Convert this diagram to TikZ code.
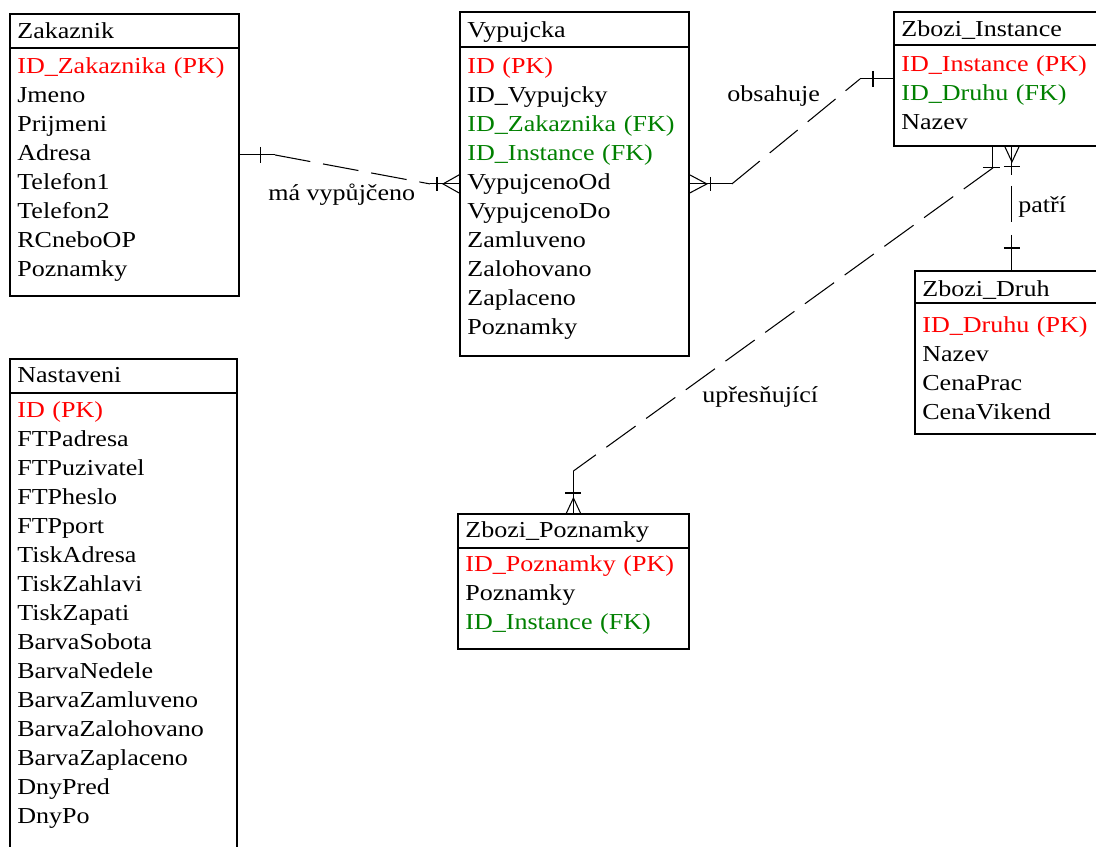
\documentclass[tikz,border=0pt]{standalone}
\usepackage{fontspec}
\setmainfont{Liberation Serif}[FakeStretch=1.14]
\usepackage{tikz}
\usetikzlibrary{calc}
\definecolor{pk}{RGB}{255,0,0}
\definecolor{fk}{RGB}{0,128,0}
\begin{document}
\begin{tikzpicture}[x=0.02cm, y=-0.02cm,
    every node/.style={font=\fontsize{13pt}{16.5pt}\selectfont},
    tabulka/.style={draw, line width=1.1pt, anchor=north west, inner sep=0pt},
    ramec/.style={line width=1.1pt},
    nadpis/.style={anchor=base west, inner sep=0pt},
    polozky/.style={anchor=base west, inner sep=0pt, align=left, text width=4.4cm},
    spoj/.style={line width=0.6pt},
    carkovane/.style={dash pattern=on 0.72cm off 0.26cm},
    popis/.style={anchor=base west, inner sep=0pt}]

    \useasboundingbox (0,0) rectangle (1096,847);
    \clip (0,0) rectangle (1096,847);

    % Tabulky
    \node[tabulka, minimum width=4.58cm, minimum height=5.64cm] (zak) at (9,13) {};
    \node[tabulka, minimum width=4.58cm, minimum height=6.88cm] (vyp) at (459,11) {};
    \node[tabulka, minimum width=4.32cm, minimum height=2.68cm] (inst) at (893,11) {};
    \node[tabulka, minimum width=3.88cm, minimum height=3.26cm] (druh) at (914,270) {};
    \node[tabulka, minimum width=4.54cm, minimum height=10cm] (nast) at (9,358) {};
    \node[tabulka, minimum width=4.62cm, minimum height=2.7cm] (pozn) at (457,513) {};

    % Oddeleni hlavicky
    \draw[ramec] ($(zak.north west)+(0,35)$) -- ($(zak.north east)+(0,35)$);
    \draw[ramec] ($(vyp.north west)+(0,36)$) -- ($(vyp.north east)+(0,36)$);
    \draw[ramec] ($(inst.north west)+(0,34)$) -- ($(inst.north east)+(0,34)$);
    \draw[ramec] ($(druh.north west)+(0,33)$) -- ($(druh.north east)+(0,33)$);
    \draw[ramec] ($(nast.north west)+(0,35)$) -- ($(nast.north east)+(0,35)$);
    \draw[ramec] ($(pozn.north west)+(0,35)$) -- ($(pozn.north east)+(0,35)$);

    % Zakaznik
    \node[nadpis] (zak-h) at ($(zak.north west)+(8,26)$) {Zakaznik};
    \node[polozky] (zak-p) at ($(zak.north west)+(8,61)$) {%
        \textcolor{pk}{ID\_Zakaznika (PK)}\\Jmeno\\Prijmeni\\Adresa\\
        Telefon1\\Telefon2\\RCneboOP\\Poznamky};

    % Vypujcka
    \node[nadpis] (vyp-h) at ($(vyp.north west)+(8,27)$) {Vypujcka};
    \node[polozky] (vyp-p) at ($(vyp.north west)+(8,63)$) {%
        \textcolor{pk}{ID (PK)}\\ID\_Vypujcky\\
        \textcolor{fk}{ID\_Zakaznika (FK)}\\\textcolor{fk}{ID\_Instance (FK)}\\
        VypujcenoOd\\VypujcenoDo\\Zamluveno\\Zalohovano\\Zaplaceno\\Poznamky};

    % Zbozi_Instance
    \node[nadpis] (inst-h) at ($(inst.north west)+(8,26)$) {Zbozi\_Instance};
    \node[polozky] (inst-p) at ($(inst.north west)+(8,61)$) {%
        \textcolor{pk}{ID\_Instance (PK)}\\\textcolor{fk}{ID\_Druhu (FK)}\\Nazev};

    % Zbozi_Druh
    \node[nadpis] (druh-h) at ($(druh.north west)+(8,27)$) {Zbozi\_Druh};
    \node[polozky] (druh-p) at ($(druh.north west)+(8,63)$) {%
        \textcolor{pk}{ID\_Druhu (PK)}\\Nazev\\CenaPrac\\CenaVikend};

    % Nastaveni
    \node[nadpis] (nast-h) at ($(nast.north west)+(8,25)$) {Nastaveni};
    \node[polozky] (nast-p) at ($(nast.north west)+(8,60)$) {%
        \textcolor{pk}{ID (PK)}\\FTPadresa\\FTPuzivatel\\FTPheslo\\FTPport\\
        TiskAdresa\\TiskZahlavi\\TiskZapati\\BarvaSobota\\BarvaNedele\\
        BarvaZamluveno\\BarvaZalohovano\\BarvaZaplaceno\\DnyPred\\DnyPo};

    % Zbozi_Poznamky
    \node[nadpis] (pozn-h) at ($(pozn.north west)+(8,25)$) {Zbozi\_Poznamky};
    \node[polozky] (pozn-p) at ($(pozn.north west)+(8,59)$) {%
        \textcolor{pk}{ID\_Poznamky (PK)}\\Poznamky\\\textcolor{fk}{ID\_Instance (FK)}};

    % Vztah: ma vypujceno
    \draw[spoj] (zak.east) -- ++(35,0) coordinate (z1);
    \draw[spoj] ($(zak.east)+(21,-8)$) -- ++(0,16);
    \coordinate (v1) at ($(vyp.west)+(-29,0)$);
    \draw[spoj, carkovane] (z1) -- (v1);
    \draw[spoj] (v1) -- (vyp.west);
    \draw[spoj] ($(vyp.west)+(-22,-7)$) -- ++(0,14);
    \draw[spoj] ($(vyp.west)+(0,-9)$) -- ($(vyp.west)+(-16,0)$) -- ($(vyp.west)+(0,9)$);
    \node[popis] (l1) at (268,201) {má vypůjčeno};

    % Vztah: obsahuje
    \draw[spoj] (vyp.east) -- ++(42,0) coordinate (v2);
    \draw[spoj] ($(vyp.east)+(0,-9)$) -- ($(vyp.east)+(17,0)$) -- ($(vyp.east)+(0,9)$);
    \draw[spoj] ($(vyp.east)+(21,-7)$) -- ++(0,14);
    \draw[spoj] (inst.west) -- ++(-33,0) coordinate (i1);
    \draw[spoj] ($(inst.west)+(-20,-8)$) -- ++(0,16);
    \draw[spoj, carkovane] (v2) -- (i1);
    \node[popis] (l2) at (727,102) {obsahuje};

    % Vztah: patri
    \coordinate (i2) at (druh.north |- inst.south);
    \draw[spoj] (i2) -- ++(0,28) coordinate (i3);
    \draw[spoj] ($(i2)+(-7,0)$) -- ($(i2)+(0,15)$) -- ($(i2)+(7,0)$);
    \draw[spoj] ($(i2)+(-8,20)$) -- ++(16,0);
    \draw[spoj] (druh.north) -- ++(0,-35) coordinate (d1);
    \draw[spoj] ($(druh.north)+(-8,-22)$) -- ++(16,0);
    \draw[spoj, carkovane, dash phase=0.76cm] (i3) -- (d1);
    \node[popis] (l3) at (1018,213) {patří};

    % Vztah: upresnujici
    \coordinate (i4) at ($(inst.south)+(-9,0)$);
    \draw[spoj] (i4) -- ++(0,21) coordinate (i5);
    \draw[spoj] ($(i5)+(-10,0)$) -- ++(17,0);
    \coordinate (p1) at ($(pozn.north)+(0,-42)$);
    \draw[spoj, carkovane] (i5) -- (p1);
    \draw[spoj] (pozn.north) -- (p1);
    \draw[spoj] ($(pozn.north)+(-8,-20)$) -- ++(16,0);
    \draw[spoj] ($(pozn.north)+(-7,0)$) -- ($(pozn.north)+(0,-15)$) -- ($(pozn.north)+(7,0)$);
    \node[popis] (l4) at (702,403) {upřesňující};

\end{tikzpicture}
\end{document}
